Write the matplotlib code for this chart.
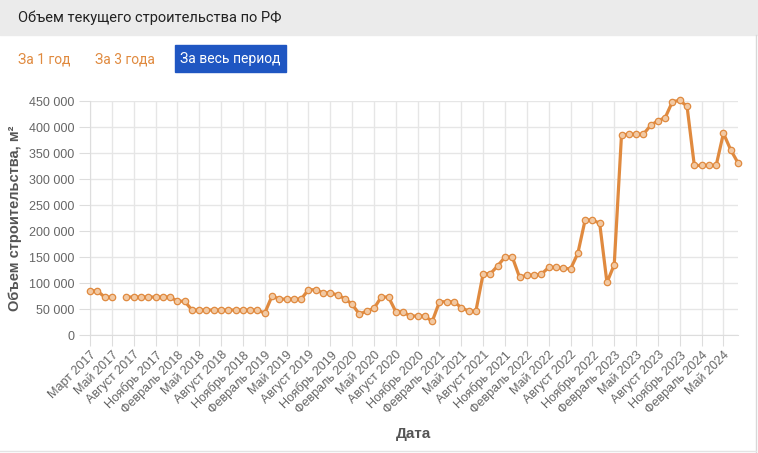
import matplotlib
matplotlib.use('Agg')
import matplotlib.pyplot as plt
from matplotlib.patches import Rectangle
from matplotlib.ticker import FuncFormatter
import numpy as np

# month labels (categories), one per data point
month_names = ["Январь", "Февраль", "Март", "Апрель", "Май", "Июнь", "Июль",
               "Август", "Сентябрь", "Октябрь", "Ноябрь", "Декабрь"]
labels = ["Март 2017", "Март 2017", "Апрель 2017"]
for k in range(87):
    m = 4 + k
    labels.append(month_names[m % 12] + " " + str(2017 + m // 12))

# volume of construction, m2 (None = no data)
values = [85000, 85000, 73000, 73000, None, 73000, 73000, 73000, 73000, 73000,
          73000, 73000, 65000, 65000, 48000, 48000, 48000, 48000, 48000, 48000,
          48000, 48000, 48000, 48000, 42000, 75000, 69000, 69000, 69000, 69000,
          87000, 87000, 81000, 81000, 77000, 70000, 59000, 40000, 46000, 51000,
          73000, 73000, 45000, 44000, 36500, 36500, 36500, 26000, 64000, 64000,
          64000, 52500, 46000, 46000, 118000, 118000, 133000, 150000, 150000, 111000,
          115000, 115000, 117000, 130000, 130000, 128500, 127000, 157000, 221000, 221000,
          215000, 101000, 135000, 385000, 386000, 386000, 386000, 403000, 412000, 418000,
          449000, 451000, 440000, 326000, 326000, 326000, 326000, 388000, 356000, 331000]

y = np.array([np.nan if v is None else v for v in values], dtype=float)
x = np.arange(len(y))

orange = '#E08A3F'
fig = plt.figure(figsize=(7.58, 4.53), dpi=100)
plt.rcParams['font.family'] = ['Liberation Sans', 'DejaVu Sans']

# header band and buttons
fig.patches.append(Rectangle((0, 1 - 35/453), 1, 35/453, transform=fig.transFigure,
                             color='#ebebeb', zorder=0))
fig.text(18/758, 1 - 18/453, "Объем текущего строительства по РФ", fontsize=10.5,
         color='#222222', va='center', family=['Roboto', 'DejaVu Sans'])
fig.text(18/758, 1 - 59/453, "За 1 год", fontsize=10, color=orange, va='center',
         family=['Roboto', 'DejaVu Sans'])
fig.text(95/758, 1 - 59/453, "За 3 года", fontsize=10, color=orange, va='center',
         family=['Roboto', 'DejaVu Sans'])
fig.patches.append(Rectangle((175/758, 1 - 72/453), 111/758, 27/453,
                             transform=fig.transFigure, color='#1F56C2', zorder=1))
fig.text(180/758, 1 - 59/453, "За весь период", fontsize=10, color='white',
         va='center', zorder=2, family=['Roboto', 'DejaVu Sans'])
fig.lines.append(plt.Line2D([756/758, 756/758], [0, 1 - 35/453], transform=fig.transFigure,
                            color='#d8d8d8', lw=1))
fig.lines.append(plt.Line2D([0, 756/758], [2/453, 2/453], transform=fig.transFigure,
                            color='#e4e4e4', lw=1))

ax = fig.add_axes([90/758, 118/453, 648/758, 234/453])
ax.plot(x, y, color=orange, lw=2.3, marker='o', markersize=4.6, clip_on=False,
        markerfacecolor='#F2C9A3', markeredgecolor=orange, markeredgewidth=0.9, zorder=3)

ax.set_xlim(0, len(y) - 1)
ax.set_ylim(0, 450000)
ax.set_yticks(np.arange(0, 450001, 50000))
ax.yaxis.set_major_formatter(FuncFormatter(lambda v, p: f"{int(v):,}".replace(",", " ")))
tick_idx = x[::3]
ax.set_xticks(tick_idx)
ax.set_xticklabels([labels[i] for i in tick_idx], rotation=45, ha='right',
                   rotation_mode='anchor')
ax.grid(True, color='#e6e6e6', lw=1)
ax.set_axisbelow(True)
for s in ['top', 'right']:
    ax.spines[s].set_visible(False)
for s in ['left', 'bottom']:
    ax.spines[s].set_color('#dddddd')
ax.tick_params(axis='both', colors='#dddddd', length=8, labelcolor='#666666', labelsize=9)
ax.tick_params(axis='x', pad=2)
ax.set_ylabel("Объем строительства, м²", fontsize=10.5, fontweight='bold', color='#555555',
              labelpad=5)
ax.set_xlabel("Дата", fontsize=11, fontweight='bold', color='#555555', labelpad=8)

fig.savefig('out.png', dpi=100)
